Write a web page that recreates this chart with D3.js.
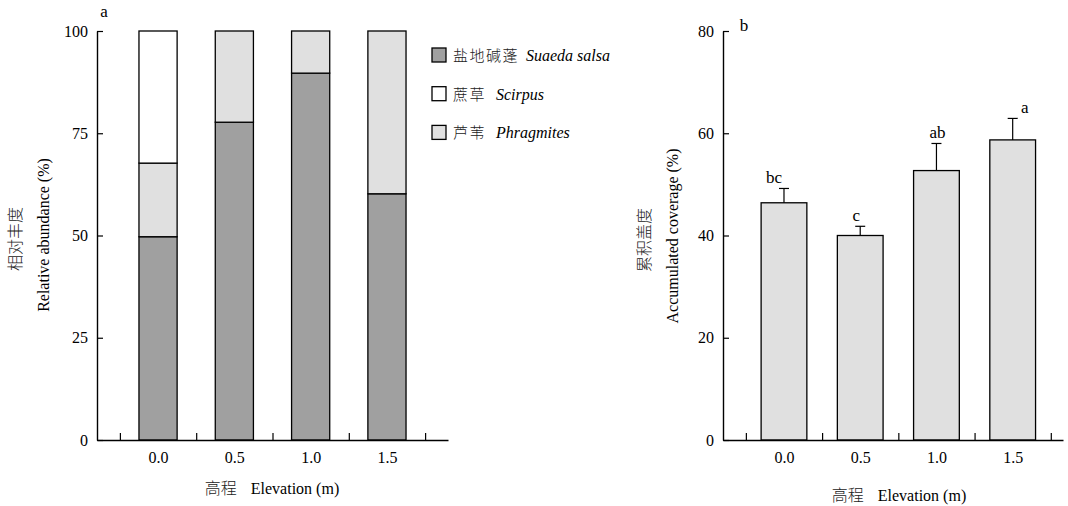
<!DOCTYPE html>
<html>
<head>
<meta charset="utf-8">
<script src="https://cdn.jsdelivr.net/npm/d3@7"></script>
<style>
  html, body { margin: 0; padding: 0; background: #fff; }
  svg { display: block; }
  text, tspan { font-family: "Liberation Serif", "Times New Roman", serif; fill: #000; }
  .cjk { font-family: "Noto Sans CJK SC", sans-serif; font-weight: 300; fill: #222; }
</style>
</head>
<body>
<svg id="chart" width="1068" height="506"></svg>
<script>
// Elevation classes (m)
const elevations = [0.0, 0.5, 1.0, 1.5];
const elevationLabels = ["0.0", "0.5", "1.0", "1.5"];

// Panel a: relative abundance (%) of each species, stacked bottom to top
const speciesKeys = ["suaeda", "phragmites", "scirpus"];
const suaeda = [49.7, 77.7, 89.7, 60.2];
const phragmites = [18.0, 22.3, 10.3, 39.8];
const scirpus = [32.3, 0, 0, 0];
const abundanceTicks = [0, 25, 50, 75, 100];

// Legend entries (listed top to bottom)
const legendCn = ["盐地碱蓬", "蔗草", "芦苇"];
const legendLatin = ["Suaeda salsa", "Scirpus", "Phragmites"];
const legendKeys = ["suaeda", "scirpus", "phragmites"];

// Panel b: accumulated coverage (%) with standard error and significance letters
const coverage = [46.4, 40.0, 52.7, 58.7];
const coverageErr = [2.8, 1.8, 5.3, 4.2];
const coverageLetters = ["bc", "c", "ab", "a"];
const coverageTicks = [0, 20, 40, 60, 80];

// Separator ticks drawn between the bars
const separatorTicks = [-0.25, 0.25, 0.75, 1.25, 1.75];

const fills = { suaeda: "#a0a0a0", phragmites: "#e0e0e0", scirpus: "#ffffff" };

const svg = d3.select("#chart");
const yTop = 31, yBottom = 440;
const FS = 16;

function xAxes(g, x) {
  // inward separator ticks
  g.append("g")
    .attr("transform", `translate(0,${yBottom})`)
    .call(d3.axisBottom(x).tickValues(separatorTicks).tickSizeInner(-7).tickSizeOuter(0).tickFormat(""))
    .call(s => s.select(".domain").attr("stroke-width", 1.6))
    .call(s => s.selectAll(".tick line").attr("stroke-width", 1.2));
  // category labels
  g.append("g")
    .attr("transform", `translate(0,${yBottom})`)
    .call(d3.axisBottom(x).tickValues(elevations).tickSize(0).tickPadding(12)
      .tickFormat((d, i) => elevationLabels[i]))
    .call(s => s.select(".domain").remove())
    .call(s => s.selectAll("text").attr("font-size", FS));
}

function yAxis(g, y, ticks, x0) {
  g.append("g")
    .attr("transform", `translate(${x0},0)`)
    .call(d3.axisLeft(y).tickValues(ticks).tickSizeInner(-6).tickSizeOuter(0).tickPadding(9))
    .call(s => s.select(".domain").attr("stroke-width", 1.4))
    .call(s => s.selectAll(".tick line").attr("stroke-width", 1.2))
    .call(s => s.selectAll("text").attr("font-size", FS));
}

function axisTitleX(g, cx, y) {
  const t = g.append("text").attr("x", cx).attr("y", y).attr("text-anchor", "middle").attr("font-size", FS);
  t.append("tspan").attr("class", "cjk").text("高程");
  t.append("tspan").attr("dx", 14).text("Elevation (m)");
}

function axisTitleY(g, cx, cy, cn, en) {
  g.append("text").attr("class", "cjk")
    .attr("transform", `translate(${cx},${cy}) rotate(-90)`)
    .attr("text-anchor", "middle").attr("font-size", FS).text(cn);
  g.append("text")
    .attr("transform", `translate(${cx + 28},${cy - 4}) rotate(-90)`)
    .attr("text-anchor", "middle").attr("font-size", FS).text(en);
}

// ---------- Panel a ----------
{
  const g = svg.append("g");
  const x = d3.scaleLinear().domain([-0.4, 1.9]).range([97, 448]);
  const y = d3.scaleLinear().domain([0, 100]).range([yBottom, yTop]);
  const bw = x(0.25) - x(0);

  const rows = elevations.map((e, i) => ({ e, suaeda: suaeda[i], phragmites: phragmites[i], scirpus: scirpus[i] }));
  const stacked = d3.stack().keys(speciesKeys)(rows);

  g.selectAll("g.layer").data(stacked).join("g").attr("class", "layer")
    .attr("fill", d => fills[d.key])
    .selectAll("rect").data(d => d.filter(p => p[1] - p[0] > 0)).join("rect")
    .attr("x", d => x(d.data.e) - bw / 2)
    .attr("width", bw)
    .attr("y", d => y(d[1]))
    .attr("height", d => y(d[0]) - y(d[1]))
    .attr("stroke", "#000").attr("stroke-width", 1.3);

  yAxis(g, y, abundanceTicks, 97);
  xAxes(g, x);
  axisTitleX(g, 272, 494);
  axisTitleY(g, 21, 239, "相对丰度", "Relative abundance (%)");

  g.append("text").attr("x", 104).attr("y", 17).attr("text-anchor", "middle").attr("font-size", 17).text("a");

  // legend
  const lg = g.append("g").attr("transform", "translate(432,48)");
  const item = lg.selectAll("g").data(legendKeys).join("g")
    .attr("transform", (d, i) => `translate(0,${i * 38.7})`);
  item.append("rect").attr("width", 14).attr("height", 14)
    .attr("fill", d => fills[d]).attr("stroke", "#000").attr("stroke-width", 1.3);
  item.append("text").attr("class", "cjk").attr("x", 21).attr("y", 13)
    .attr("font-size", 15).attr("letter-spacing", 1.5)
    .text((d, i) => legendCn[i]);
  item.append("text").attr("x", (d, i) => i === 0 ? 94 : 64).attr("y", 13)
    .attr("font-size", FS).attr("font-style", "italic")
    .text((d, i) => legendLatin[i]);
}

// ---------- Panel b ----------
{
  const g = svg.append("g");
  const x = d3.scaleLinear().domain([-0.4, 1.83]).range([723, 1063]);
  const y = d3.scaleLinear().domain([0, 80]).range([yBottom, yTop]);
  const bw = x(0.3) - x(0);
  const capHalf = 5;
  // horizontal nudges of the significance letters
  const letterShift = [-10, -4, 1, 12];

  const rows = elevations.map((e, i) => ({ e, v: coverage[i], err: coverageErr[i], letter: coverageLetters[i], i }));

  g.selectAll("rect.bar").data(rows).join("rect").attr("class", "bar")
    .attr("x", d => x(d.e) - bw / 2).attr("width", bw)
    .attr("y", d => y(d.v)).attr("height", d => y(0) - y(d.v))
    .attr("fill", "#e0e0e0").attr("stroke", "#000").attr("stroke-width", 1.3);

  const eb = g.selectAll("g.err").data(rows).join("g").attr("class", "err")
    .attr("stroke", "#000").attr("stroke-width", 1.2);
  eb.append("line").attr("x1", d => x(d.e)).attr("x2", d => x(d.e))
    .attr("y1", d => y(d.v)).attr("y2", d => y(d.v + d.err));
  eb.append("line").attr("x1", d => x(d.e) - capHalf).attr("x2", d => x(d.e) + capHalf)
    .attr("y1", d => y(d.v + d.err)).attr("y2", d => y(d.v + d.err));

  g.selectAll("text.letter").data(rows).join("text").attr("class", "letter")
    .attr("x", d => x(d.e) + letterShift[d.i])
    .attr("y", d => y(d.v + d.err) - 5)
    .attr("text-anchor", "middle").attr("font-size", 17)
    .text(d => d.letter);

  yAxis(g, y, coverageTicks, 723);
  xAxes(g, x);
  axisTitleX(g, 899, 501);
  axisTitleY(g, 650, 240, "累积盖度", "Accumulated coverage (%)");

  g.append("text").attr("x", 744).attr("y", 31).attr("text-anchor", "middle").attr("font-size", 17).text("b");
}
</script>
</body>
</html>
